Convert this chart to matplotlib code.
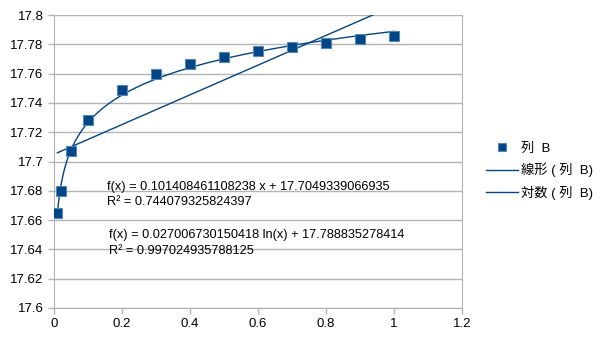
import matplotlib
matplotlib.use("Agg")
import matplotlib.pyplot as plt
import numpy as np

plt.rcParams["font.family"] = ["Liberation Sans", "Noto Sans CJK JP", "DejaVu Sans"]

# measured values, column B
x_vals = [0.01, 0.02, 0.05, 0.1, 0.2, 0.3, 0.4, 0.5, 0.6, 0.7, 0.8, 0.9, 1.0]
y_vals = [17.6648, 17.680, 17.7072, 17.7286, 17.749, 17.7595, 17.7666,
          17.7716, 17.7757, 17.7782, 17.7809, 17.7834, 17.7857]

# trendline coefficients as reported
lin_slope, lin_icpt, lin_r2 = 0.101408461108238, 17.7049339066935, 0.744079325824397
log_coef, log_icpt, log_r2 = 0.027006730150418, 17.788835278414, 0.997024935788125

x_ticks = [0, 0.2, 0.4, 0.6, 0.8, 1, 1.2]
y_ticks = [17.6, 17.62, 17.64, 17.66, 17.68, 17.7, 17.72, 17.74, 17.76, 17.78, 17.8]

BLUE = "#004586"
GRID = "#b3b3b3"

fig = plt.figure(figsize=(6.05, 3.4), dpi=100)
ax = fig.add_axes([54 / 605, 1 - 308 / 340, (462 - 54) / 605, (308 - 15) / 340])

xs = np.linspace(min(x_vals), max(x_vals), 400)
ax.plot(xs, lin_slope * xs + lin_icpt, color=BLUE, lw=1.0, zorder=2,
        label="線形 ( 列  B)")
ax.plot(xs, log_coef * np.log(xs) + log_icpt, color=BLUE, lw=1.0, zorder=2,
        label="対数 ( 列  B)")
ax.plot(x_vals, y_vals, ls="none", marker="s", ms=7.5, mfc=BLUE,
        mec="#5a86b3", mew=0.8, zorder=3, label="列  B")

ax.set_xlim(0, 1.2)
ax.set_ylim(17.6, 17.8)
ax.set_xticks(x_ticks)
ax.set_xticklabels(["0", "0.2", "0.4", "0.6", "0.8", "1", "1.2"])
ax.set_yticks(y_ticks)
ax.set_yticklabels(["17.6", "17.62", "17.64", "17.66", "17.68", "17.7",
                    "17.72", "17.74", "17.76", "17.78", "17.8"])
ax.tick_params(labelsize=9.5, color=GRID, length=4, width=1)
ax.yaxis.grid(True, color=GRID, lw=1)
ax.set_axisbelow(True)
for side in ["left", "right", "bottom"]:
    ax.spines[side].set_color(GRID)
ax.spines["top"].set_visible(False)

eq_kw = dict(transform=ax.transData, fontsize=9.2, va="center", ha="left", zorder=4)
ax.text(0.155, 17.6823, f"f(x) = {lin_slope} x + {lin_icpt}", **eq_kw)
ax.text(0.155, 17.6721, f"R² = {lin_r2}", **eq_kw)
ax.text(0.161, 17.6496, f"f(x) = {log_coef} ln(x) + {log_icpt}", **eq_kw)
ax.text(0.161, 17.6387, f"R² = {log_r2}", **eq_kw)

handles, labels = ax.get_legend_handles_labels()
order = [2, 0, 1]
fig.legend([handles[i] for i in order], [labels[i] for i in order],
           loc="center left", bbox_to_anchor=(486 / 605, 1 - 171 / 340),
           borderaxespad=0, borderpad=0, frameon=False, fontsize=9.5,
           handlelength=2.4, labelspacing=0.62, handletextpad=0.25,
           markerscale=0.85)

fig.savefig("out.png", dpi=100)
